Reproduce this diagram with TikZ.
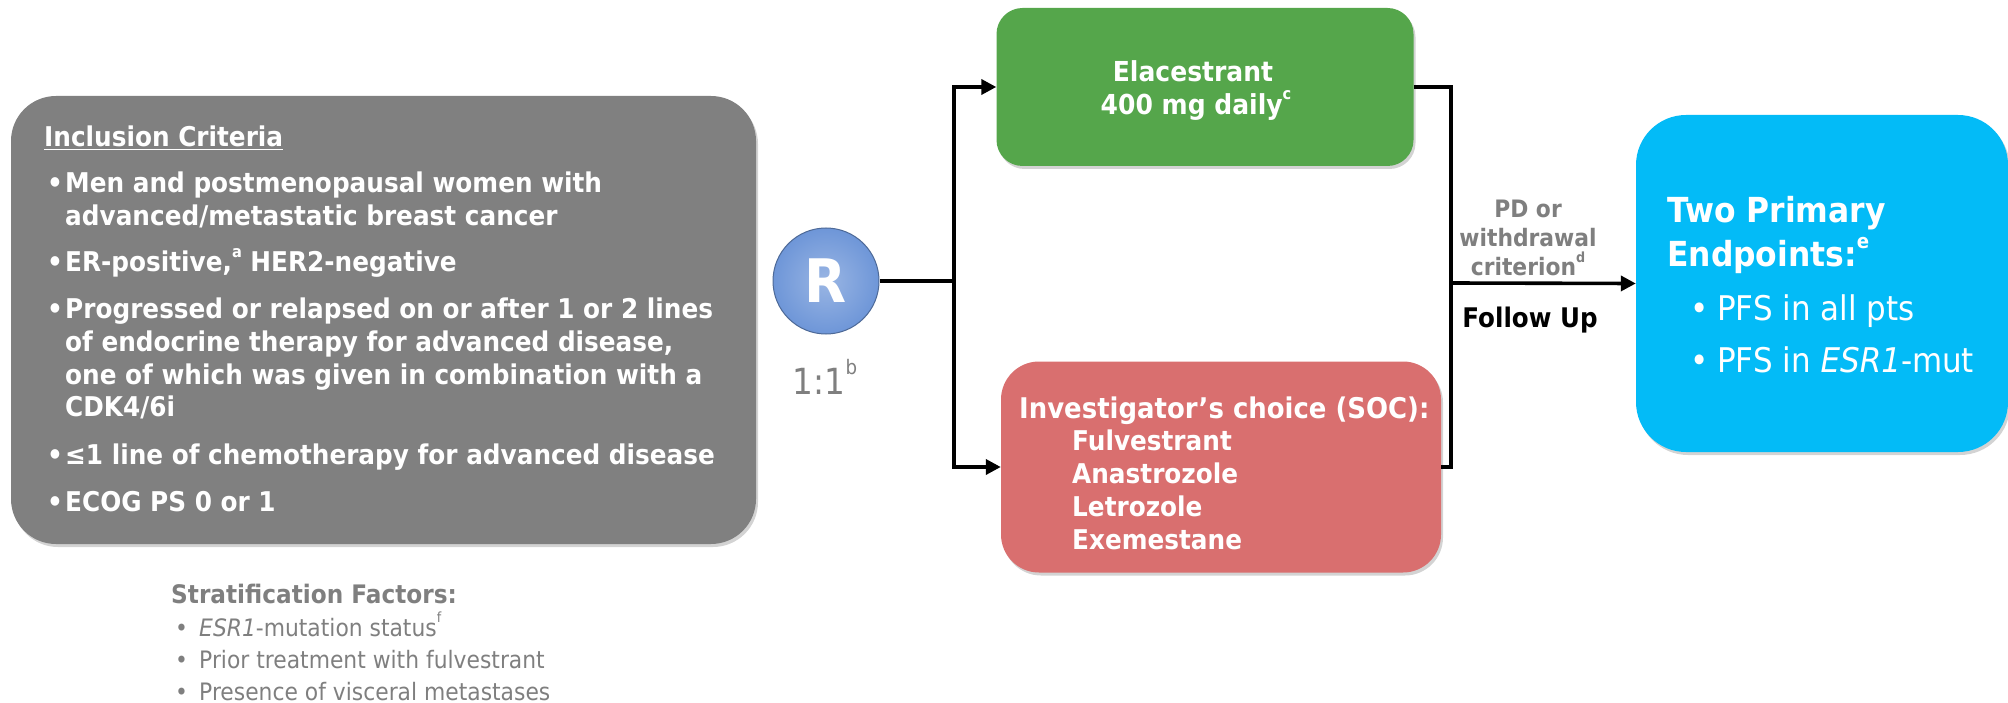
\documentclass[tikz,border=0pt]{standalone}
\usepackage{fontspec}
\setmainfont{DejaVu Sans}[FakeStretch=0.91]
\usetikzlibrary{arrows.meta,shadows}
\definecolor{boxgray}{HTML}{808080}
\definecolor{txtgray}{HTML}{7F7F7F}
\definecolor{boxgreen}{HTML}{55A64B}
\definecolor{boxred}{HTML}{D96F6F}
\definecolor{boxblue}{HTML}{03BBF7}
\definecolor{rblue}{HTML}{6E96D8}
\tikzset{
  shad/.style={drop shadow={opacity=0.35,shadow xshift=2pt,shadow yshift=-3pt}},
  wtxt/.style={text=white, font=\bfseries\fontsize{27.2}{32.5}\selectfont, inner sep=0pt, anchor=base west},
  strat/.style={text=txtgray, font=\fontsize{24}{32}\selectfont, inner sep=0pt, anchor=base west},
  btxt/.style={text=white, font=\fontsize{34}{34}\selectfont, inner sep=0pt, anchor=base west},
  conn/.style={line width=3.6pt, draw=black},
  arr/.style={conn, -{Triangle[length=15pt,width=15pt]}},
}
\newcommand{\sups}[2]{\raisebox{0.55em}{\fontsize{#1}{#1}\selectfont #2}}
\begin{document}
\begin{tikzpicture}[x=1pt,y=-1pt]
\useasboundingbox (0,0) rectangle (2008,703);
% boxes
\node[inner sep=0pt, minimum width=745pt, minimum height=448pt, rounded corners=45pt, fill=boxgray, shad] (gray) at (383.5,320) {};
\node[inner sep=0pt, minimum width=417pt, minimum height=158pt, rounded corners=26pt, fill=boxgreen, shad] (green) at (1205,87) {};
\node[inner sep=0pt, minimum width=440pt, minimum height=211pt, rounded corners=38pt, fill=boxred, shad] (red) at (1221,467) {};
\node[inner sep=0pt, minimum width=372pt, minimum height=337pt, rounded corners=50pt, fill=boxblue, shad] (blue) at (1822,283.5) {};
% R circle
\node[circle, minimum size=106pt, inner sep=0pt, draw=rblue!70!black, line width=1pt, inner color=rblue!70!white, outer color=rblue, text=white, font=\bfseries\fontsize{60}{60}\selectfont] (R) at (826,281) {R};
\node[text=txtgray, font=\fontsize{36}{36}\selectfont, inner sep=0pt] (ratio) at (825,377) {1:1\sups{20}{b}};
% inclusion text
\node[wtxt] (inc) at (44,147) {\underline{Inclusion Criteria}};
\node[wtxt] (b1) at (47,193) {•};
\node[wtxt] (t1a) at (65,193) {Men and postmenopausal women with};
\node[wtxt] (t1b) at (65,225.5) {advanced/metastatic breast cancer};
\node[wtxt] (b2) at (47,272) {•};
\node[wtxt] (t2) at (65,272) {ER-positive,\sups{16}{a} HER2-negative};
\node[wtxt] (b3) at (47,319) {•};
\node[wtxt] (t3a) at (65,319) {Progressed or relapsed on or after 1 or 2 lines};
\node[wtxt] (t3b) at (65,351.5) {of endocrine therapy for advanced disease,};
\node[wtxt] (t3c) at (65,384) {one of which was given in combination with a};
\node[wtxt] (t3d) at (65,416.5) {CDK4/6i};
\node[wtxt] (b4) at (47,464) {•};
\node[wtxt] (t4) at (65,464) {≤1 line of chemotherapy for advanced disease};
\node[wtxt] (b5) at (47,511) {•};
\node[wtxt] (t5) at (65,511) {ECOG PS 0 or 1};
% stratification
\node[strat, font=\bfseries\fontsize{25.5}{32}\selectfont] (sh) at (171,603) {Stratification Factors:};
\node[strat] (s1b) at (175,636) {•};
\node[strat] (s1) at (199,636) {\textit{ESR1}-mutation status\sups{14}{f}};
\node[strat] (s2b) at (175,668) {•};
\node[strat] (s2) at (199,668) {Prior treatment with fulvestrant};
\node[strat] (s3b) at (175,700) {•};
\node[strat] (s3) at (199,700) {Presence of visceral metastases};
% green text
\node[text=white, font=\bfseries\fontsize{27.5}{33}\selectfont, inner sep=0pt, anchor=base] (g1) at (1193,82) {Elacestrant};
\node[text=white, font=\bfseries\fontsize{27.5}{33}\selectfont, inner sep=0pt, anchor=base] (g2) at (1196,115) {400 mg daily\sups{16}{c}};
% red text
\node[wtxt, font=\bfseries\fontsize{28.5}{33}\selectfont] (rt) at (1019,418) {Investigator’s choice (SOC):};
\node[wtxt] (r1) at (1072,450) {Fulvestrant};
\node[wtxt] (r2) at (1072,483) {Anastrozole};
\node[wtxt] (r3) at (1072,516) {Letrozole};
\node[wtxt] (r4) at (1072,549) {Exemestane};
% PD label
\node[text=txtgray, font=\bfseries\fontsize{24}{29}\selectfont, align=center, inner sep=0pt] (pd) at (1528,238) {PD or\\withdrawal\\criterion\sups{14}{d}};
\node[text=black, font=\bfseries\fontsize{27}{27}\selectfont, inner sep=0pt] (fu) at (1530,320) {Follow Up};
% blue text
\node[wtxt, font=\bfseries\fontsize{34.5}{34.5}\selectfont] (bt1) at (1667,223) {Two Primary};
\node[wtxt, font=\bfseries\fontsize{34.5}{34.5}\selectfont] (bt2) at (1667,267) {Endpoints:\sups{20}{e}};
\node[btxt] (bb1) at (1690,320) {•};
\node[btxt] (bl1) at (1717,320) {PFS in all pts};
\node[btxt] (bb2) at (1690,372) {•};
\node[btxt] (bl2) at (1717,372) {PFS in \textit{ESR1}-mut};
% connectors
\coordinate (jn) at (954,281);
\coordinate (jr) at (1451,283);
\draw[conn] (R.east) -- (jn);
\draw[arr] (jn) |- (green.west);
\draw[arr] (jn) |- (red.west);
\draw[conn] (green.east) -| (jr) |- (red.east);
\draw[arr] (jr) -- (blue.west);
\end{tikzpicture}
\end{document}
